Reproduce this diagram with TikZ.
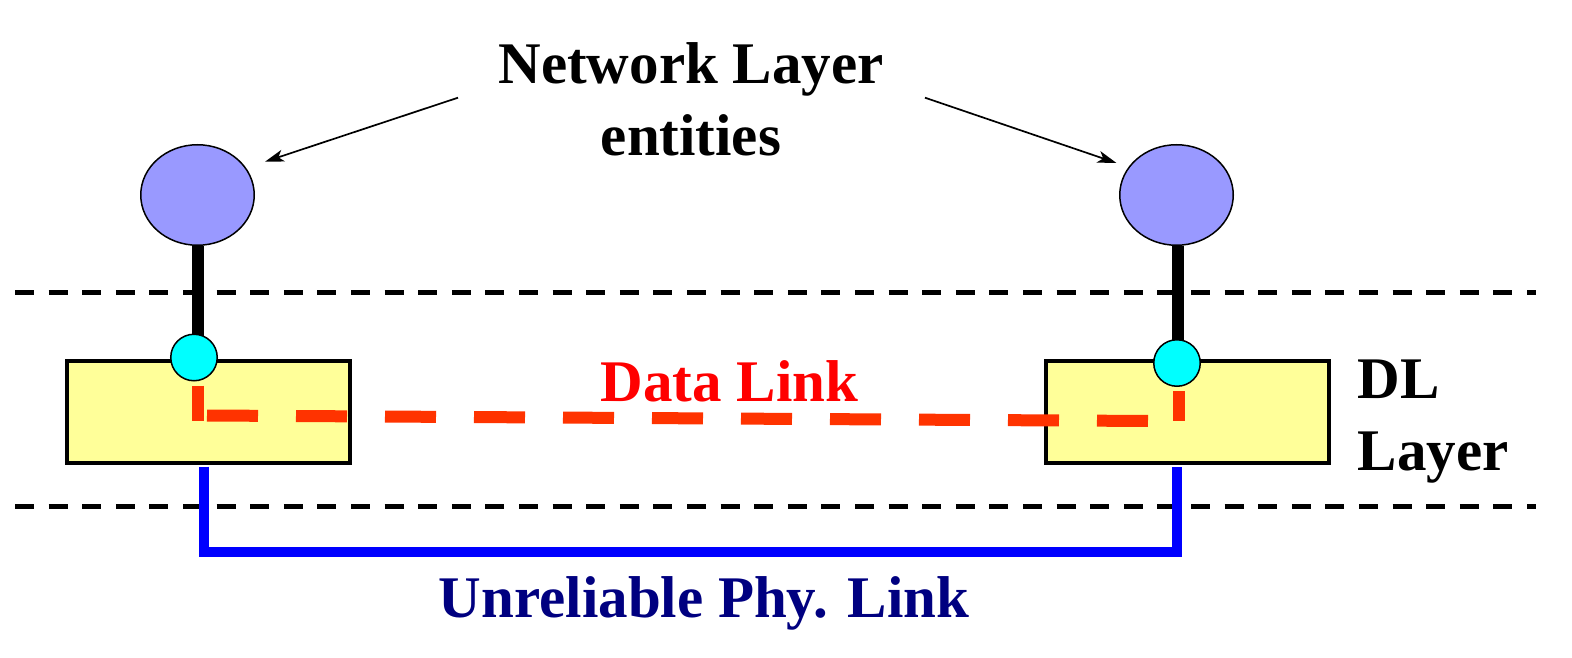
\documentclass[tikz,border=0pt]{standalone}
\usepackage{fontspec}
\setmainfont{Liberation Serif}
\usetikzlibrary{shapes.geometric,arrows.meta,positioning,calc}
\definecolor{entityblue}{HTML}{9999FF}
\definecolor{dlyellow}{HTML}{FFFF99}
\definecolor{sapcyan}{HTML}{00FFFF}
\definecolor{linkred}{HTML}{FF3300}
\definecolor{phyblue}{HTML}{0000FF}
\definecolor{phynavy}{HTML}{000080}

\begin{document}
\begin{tikzpicture}[x=1pt,y=-1pt]
  \tikzstyle{entity} = [ellipse, draw, line width=1.5pt, fill=entityblue, minimum width=113.5pt, minimum height=100.5pt, inner sep=0pt]
  \tikzstyle{sap} = [circle, draw, line width=1.5pt, fill=sapcyan, minimum size=46.5pt, inner sep=0pt]
  \tikzstyle{dlbox} = [rectangle, draw, line width=4pt, fill=dlyellow, minimum width=283pt, minimum height=102pt, inner sep=0pt]
  \tikzstyle{bigtext} = [font=\fontsize{59}{72}\selectfont\bfseries, inner sep=0pt]
  \tikzstyle{layerline} = [line width=5pt, dash pattern=on 19pt off 14.6pt]
  \tikzstyle{stem} = [line width=12pt]
  \tikzstyle{linkstub} = [line width=12pt, linkred, shorten <=4pt]
  \tikzstyle{datalink} = [line width=12pt, linkred, dash pattern=on 51pt off 38pt]
  \tikzstyle{phylink} = [line width=10pt, phyblue, shorten <=2pt, shorten >=2pt]
  \tikzstyle{pointer} = [line width=1.7pt, -{Stealth[length=19pt,width=12pt,inset=5pt]}]

  \useasboundingbox (0,0) rectangle (1572,658);

  \draw [layerline] (15,292) -- (1536,292);
  \draw [layerline] (15,506) -- (1536,506);

  \node [dlbox] (dlL) at (208,411.5) {};
  \node [dlbox] (dlR) at (1187,411.5) {};
  \node [entity] (netL) at (197.5,195) {};
  \node [entity] (netR) at (1176.5,195) {};

  \draw [stem] (netL.south) -- (netL.south |- 0,357.5);
  \draw [stem] ([xshift=1.5pt]netR.south) -- ([xshift=1.5pt]netR.south |- 0,363);
  \node [sap] (sapL) at (194,357.5) {};
  \node [sap] (sapR) at (1177,363) {};

  \coordinate (dlinkL) at (198,421);
  \coordinate (dlinkR) at (1179,421);
  \draw [linkstub] (dlinkL |- sapL.south) -- (dlinkL);
  \draw [linkstub] (dlinkR |- sapR.south) -- (dlinkR);
  \draw [datalink] ($(dlinkL)+(9,-5.5)$) -- ($(dlinkR)+(-29,0)$);

  \coordinate (phyL) at (204,552);
  \coordinate (phyR) at (1177,552);
  \draw [phylink] (phyL |- dlL.south) -- (phyL) -- (phyR) -- (phyR |- dlR.south);

  \node [bigtext, align=center] (nltext) at (691,99) {Network Layer\\entities};
  \node [bigtext, text=red, anchor=base] (dltext) at (729.5,401) {Data Link};
  \node [bigtext, text=phynavy, anchor=base] (phytext) at (704,617) {Unreliable Phy. Link};
  \node [bigtext, align=left, anchor=north west] (layertext) at (1357.5,359.5) {DL\\Layer};

  \coordinate (tailL) at (458,97.7);
  \coordinate (tipL) at (265,161.7);
  \coordinate (tailR) at (925,97.7);
  \coordinate (tipR) at (1116.5,163);
  \draw [pointer] (tailL) -- (tipL);
  \draw [pointer] (tailR) -- (tipR);
\end{tikzpicture}
\end{document}
